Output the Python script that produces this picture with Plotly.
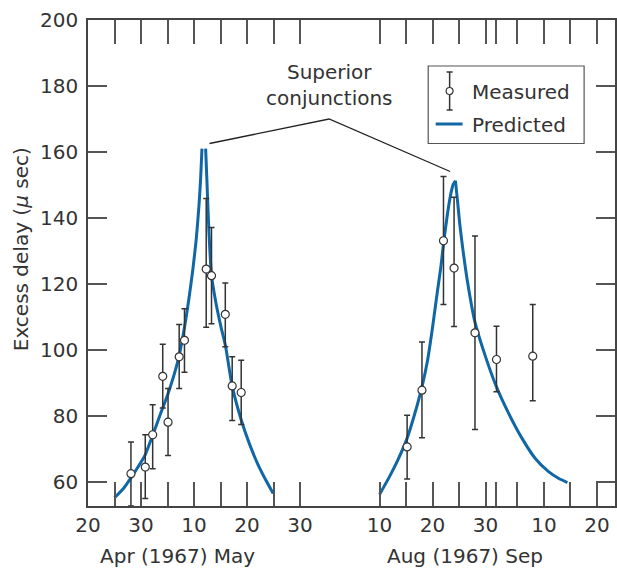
import plotly.graph_objects as go
import pandas as pd

# ---------------- data ----------------
# x values are days after the base date of each observing window
APR_BASE = "1967-04-20"
AUG_BASE = "1967-08-10"

# Measured, April-May 1967
meas_am_days = [8.1, 10.8, 12.2, 14.1, 15.1, 17.2, 18.2, 22.3, 23.3, 25.9, 27.2, 28.9]
meas_am_val = [62.5, 64.5, 74.3, 92.0, 78.1, 97.9, 102.9, 124.5, 122.5, 110.8, 89.1, 87.1]
meas_am_hi = [72.1, 74.3, 83.4, 101.7, 88.3, 107.7, 112.5, 145.9, 137.1, 120.3, 97.9, 96.9]
meas_am_lo = [52.7, 55.0, 64.0, 82.4, 68.0, 88.3, 93.2, 106.9, 107.9, 101.0, 78.6, 77.4]

# Measured, August-September 1967
meas_as_days = [5.2, 8.0, 12.06, 14.06, 18.0, 22.06, 28.9]
meas_as_val = [70.6, 87.8, 133.1, 124.8, 105.2, 97.1, 98.1]
meas_as_hi = [80.2, 102.4, 152.6, 146.3, 134.5, 107.2, 113.8]
meas_as_lo = [60.9, 73.4, 113.8, 107.1, 75.9, 87.3, 84.6]

# Predicted, April-May (rising and falling branches, truncated at the spike)
pred_am_rise_days = [5.0, 6.69, 8.13, 9.81, 10.81, 12.19, 13.56, 15.06, 16.19, 17.19,
                     18.19, 19.06, 19.81, 20.44, 20.94, 21.25, 21.5]
pred_am_rise_val = [55.2, 58.0, 61.3, 65.5, 68.3, 74.1, 80.1, 86.6, 92.2, 98.2,
                    106.7, 115.8, 124.8, 133.9, 143.9, 152.0, 161.0]
pred_am_fall_days = [22.19, 22.44, 22.81, 23.31, 24.19, 25.13, 25.94, 27.19, 28.94,
                     30.44, 32.0, 33.56, 34.94]
pred_am_fall_val = [161.0, 151.0, 135.9, 122.5, 113.8, 106.7, 101.2, 89.1, 78.6,
                    71.6, 65.5, 60.5, 56.5]

# Predicted, August-September (rising and falling branches meeting at the cusp)
pred_as_rise_days = [0.0, 1.88, 3.44, 5.19, 6.56, 8.0, 9.06, 10.0, 10.94, 11.56, 12.06,
                     12.81, 13.44, 13.88, 14.31]
pred_as_rise_val = [56.2, 61.6, 66.6, 73.2, 80.2, 88.8, 96.9, 106.9, 118.0, 125.1, 132.1,
                    141.2, 147.3, 150.1, 151.3]
pred_as_fall_days = [14.31, 14.69, 15.13, 15.75, 16.56, 18.0, 20.0,
                     22.06, 24.38, 26.88, 29.38, 31.88, 33.75, 35.44]
pred_as_fall_val = [151.3, 145.5, 138.2, 130.1, 121.0, 108.4, 97.9,
                    88.8, 80.7, 73.2, 67.1, 63.1, 61.1, 59.8]

# axis ticks
x_tick_dates = ["1967-04-20", "1967-04-25", "1967-04-30", "1967-05-05", "1967-05-10",
                "1967-05-15", "1967-05-20", "1967-05-25", "1967-05-30",
                "1967-08-10", "1967-08-15", "1967-08-20", "1967-08-25", "1967-08-30",
                "1967-09-01", "1967-09-05", "1967-09-10", "1967-09-15", "1967-09-20"]
x_tick_text = ["20", "", "30", "", "10", "", "20", "", "30",
               "10", "", "20", "", "30", "", "", "10", "", "20"]
y_ticks = [60, 80, 100, 120, 140, 160, 180, 200]

# ---------------- figure ----------------
W, H = 617, 569
ML, MR, MT, MB = 88, 0, 20, 63
PW, PH = W - ML - MR, H - MT - MB


def dates(base, days):
    b = pd.Timestamp(base)
    return [b + pd.Timedelta(days=d) for d in days]


def px(xp):
    return (xp - ML) / PW


def py(yp):
    return (H - MB - yp) / PH


BLUE = "#0f67a6"
INK = "#333333"
FONT = "DejaVu Sans"

fig = go.Figure()

for d, v, base in [(pred_am_rise_days, pred_am_rise_val, APR_BASE),
                   (pred_am_fall_days, pred_am_fall_val, APR_BASE),
                   (pred_as_rise_days, pred_as_rise_val, AUG_BASE),
                   (pred_as_fall_days, pred_as_fall_val, AUG_BASE)]:
    fig.add_trace(go.Scatter(x=dates(base, d), y=v, mode="lines",
                             line=dict(color=BLUE, width=3, shape="spline", smoothing=0.6),
                             showlegend=False, hoverinfo="skip"))

for d, v, hi, lo, base in [(meas_am_days, meas_am_val, meas_am_hi, meas_am_lo, APR_BASE),
                           (meas_as_days, meas_as_val, meas_as_hi, meas_as_lo, AUG_BASE)]:
    fig.add_trace(go.Scatter(
        x=dates(base, d), y=v, mode="markers",
        marker=dict(symbol="circle", size=8, color="white", line=dict(color=INK, width=1.2)),
        error_y=dict(type="data", symmetric=False,
                     array=[h - c for h, c in zip(hi, v)],
                     arrayminus=[c - l for c, l in zip(v, lo)],
                     color=INK, thickness=1.5, width=3),
        showlegend=False))

fig.update_xaxes(
    type="date",
    range=["1967-04-20", "1967-09-23 10:00"],
    rangebreaks=[dict(bounds=["1967-06-05", "1967-08-01"])],
    tickmode="array", tickvals=x_tick_dates, ticktext=x_tick_text,
    ticks="inside", ticklen=24, tickwidth=1.5, tickcolor="#555",
    showline=True, linecolor="#444", linewidth=1.5, mirror="ticks",
    showgrid=False, zeroline=False,
    tickfont=dict(family=FONT, size=20, color=INK),
    ticklabelstandoff=0,
)
fig.update_yaxes(
    range=[52.7, 200],
    tickmode="array", tickvals=y_ticks,
    ticks="inside", ticklen=19, tickwidth=1.5, tickcolor="#555",
    showline=True, linecolor="#444", linewidth=1.5, mirror="ticks",
    showgrid=False, zeroline=False,
    tickfont=dict(family=FONT, size=20, color=INK),
    ticklabelstandoff=4,
)

annotations = [
    dict(text="Excess delay (<i>μ</i> sec)", textangle=-90, xref="paper", yref="paper",
         x=px(21), y=py(249), xanchor="center", yanchor="middle", showarrow=False,
         font=dict(family=FONT, size=20, color=INK)),
    dict(text="Apr (1967) May", xref="paper", yref="paper", x=px(178), y=py(556),
         xanchor="center", yanchor="middle", showarrow=False,
         font=dict(family=FONT, size=20, color=INK)),
    dict(text="Aug (1967) Sep", xref="paper", yref="paper", x=px(466), y=py(556),
         xanchor="center", yanchor="middle", showarrow=False,
         font=dict(family=FONT, size=20, color=INK)),
    dict(text="Superior<br>conjunctions", xref="paper", yref="paper", x=px(330), y=py(85),
         xanchor="center", yanchor="middle", showarrow=False,
         font=dict(family=FONT, size=20, color=INK)),
    dict(text="Measured", xref="paper", yref="paper", x=px(471), y=py(92),
         xanchor="left", yanchor="middle", showarrow=False,
         font=dict(family=FONT, size=20, color=INK)),
    dict(text="Predicted", xref="paper", yref="paper", x=px(471), y=py(125),
         xanchor="left", yanchor="middle", showarrow=False,
         font=dict(family=FONT, size=20, color=INK)),
]

shapes = [
    # pointer lines to the two conjunction peaks
    dict(type="path", xref="paper", yref="paper",
         path=f"M {px(210)} {py(143.5)} L {px(330)} {py(119)} L {px(451.5)} {py(171.5)}",
         line=dict(color="#222", width=1.3)),
    # legend box
    dict(type="rect", xref="paper", yref="paper", x0=px(429.5), x1=px(586), y0=py(66), y1=py(143.5),
         line=dict(color="#555", width=1.2), fillcolor="white", layer="above"),
    # legend: error-bar glyph
    dict(type="line", xref="paper", yref="paper", x0=px(451), x1=px(451), y0=py(72), y1=py(110),
         line=dict(color=INK, width=1.5), layer="above"),
    dict(type="line", xref="paper", yref="paper", x0=px(448), x1=px(454), y0=py(72), y1=py(72),
         line=dict(color=INK, width=1.5), layer="above"),
    dict(type="line", xref="paper", yref="paper", x0=px(448), x1=px(454), y0=py(110), y1=py(110),
         line=dict(color=INK, width=1.5), layer="above"),
    dict(type="circle", xref="paper", yref="paper", x0=px(447.5), x1=px(454.5), y0=py(87.5), y1=py(94.5),
         line=dict(color=INK, width=1.2), fillcolor="white", layer="above"),
    # legend: predicted line
    dict(type="line", xref="paper", yref="paper", x0=px(437), x1=px(464), y0=py(124), y1=py(124),
         line=dict(color=BLUE, width=3), layer="above"),
]

fig.update_layout(
    width=W, height=H,
    margin=dict(l=ML, r=MR, t=MT, b=MB, pad=0),
    paper_bgcolor="white", plot_bgcolor="white",
    font=dict(family=FONT, size=20, color=INK),
    showlegend=False,
    annotations=annotations,
    shapes=shapes,
)

fig.write_html("out.html")
